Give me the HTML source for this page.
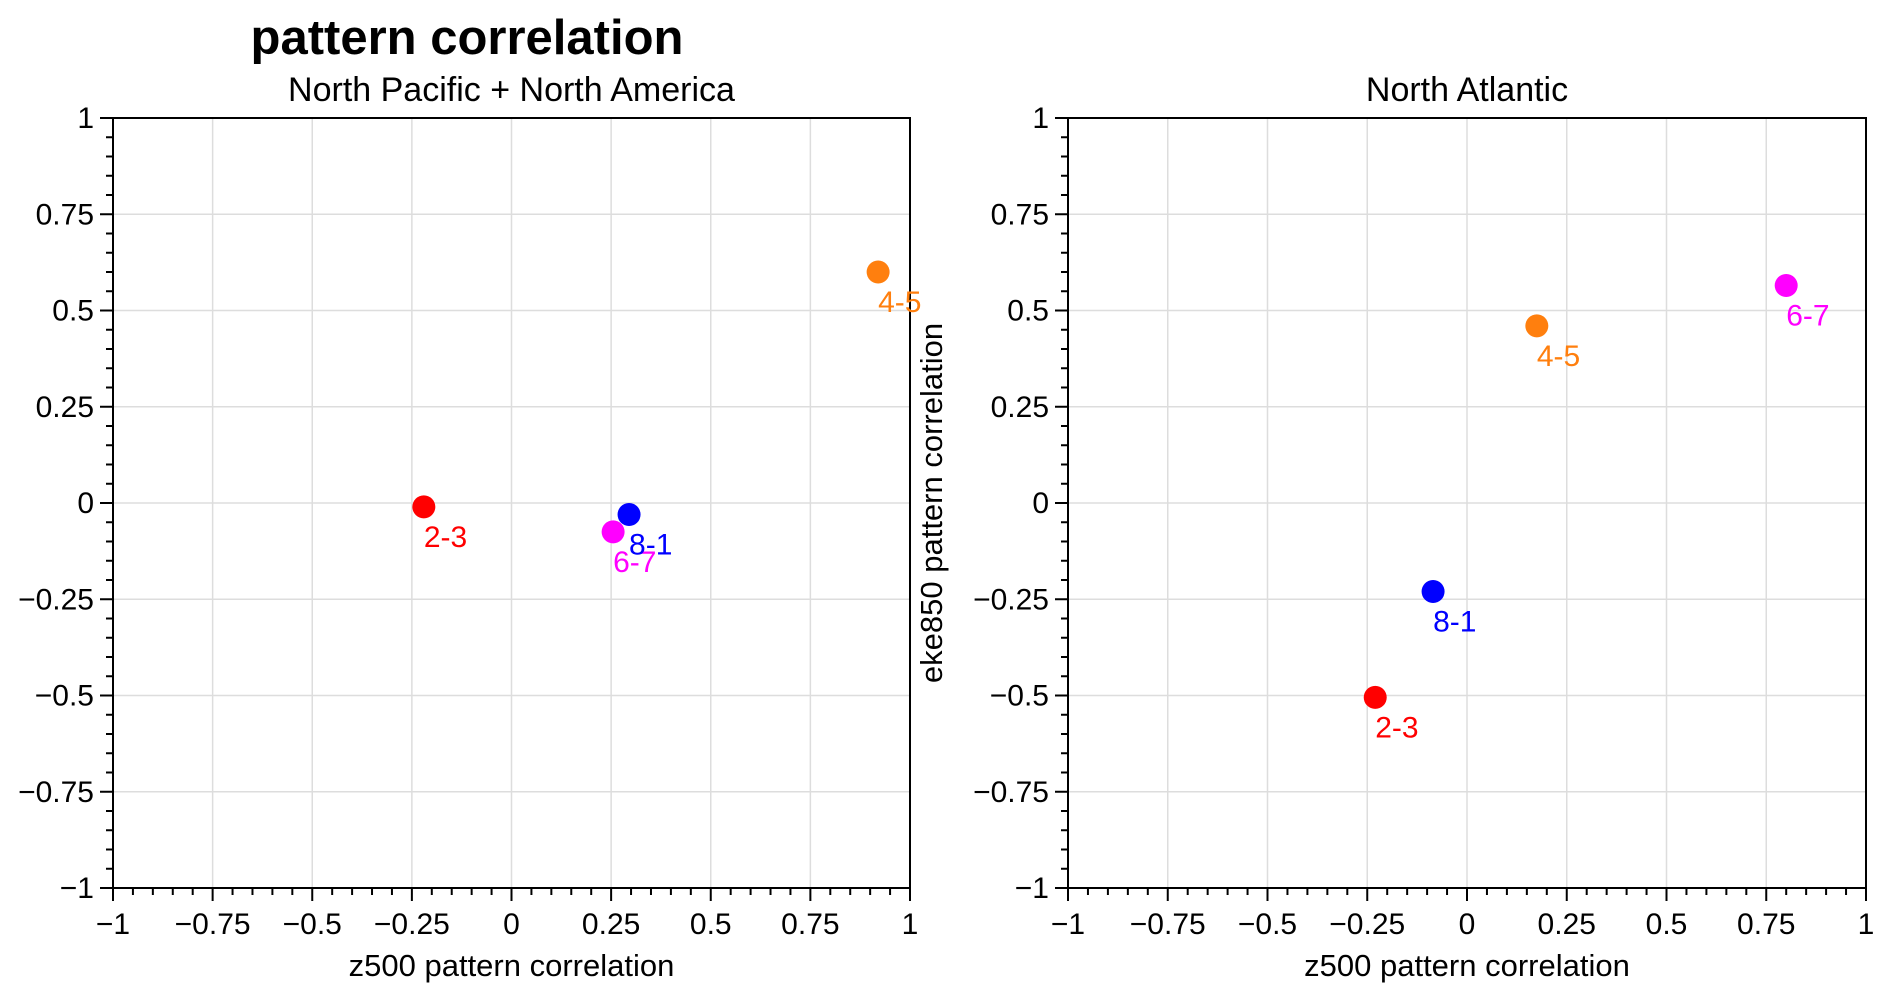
<!DOCTYPE html>
<html><head><meta charset="utf-8"><style>
html,body{margin:0;padding:0;background:#fff}
svg{display:block;font-family:"Liberation Sans",sans-serif}
</style></head><body>
<svg id="c" width="1892" height="1003" viewBox="0 0 1892 1003">
<text x="467" y="54" font-size="49" font-weight="bold" text-anchor="middle" fill="#000">pattern correlation</text>
</svg>
<script>
const panels = ['North Pacific + North America','North Atlantic'];
const labels = ['2-3','4-5','6-7','8-1'];
const colors = ['#ff0000','#ff7f0e','#ff00ff','#0000ff'];
const xNP = [-0.22, 0.92, 0.255, 0.295];
const yNP = [-0.01, 0.60, -0.075, -0.03];
const xNA = [-0.23, 0.175, 0.80, -0.085];
const yNA = [-0.505, 0.46, 0.565, -0.23];
const tickVals = [-1,-0.75,-0.5,-0.25,0,0.25,0.5,0.75,1];
const tickLabels = ['\u22121','\u22120.75','\u22120.5','\u22120.25','0','0.25','0.5','0.75','1'];

const svg = document.getElementById('c');
const NS = 'http://www.w3.org/2000/svg';
function mk(tag, attrs, parent){const e=document.createElementNS(NS,tag);for(const k in attrs)e.setAttribute(k,attrs[k]);(parent||svg).appendChild(e);return e;}
const boxes=[{x0:113,x1:910},{x0:1068,x1:1866}];
const Y0=118,Y1=888;
const dataX=[xNP,xNA], dataY=[yNP,yNA];
boxes.forEach((b,pi)=>{
  const g=mk('g',{});
  
  
  const sx=v=>b.x0+(v+1)/2*(b.x1-b.x0);
  const sy=v=>Y1-(v+1)/2*(Y1-Y0);
  const t=mk('text',{x:(b.x0+b.x1)/2,y:101,'font-size':34,'text-anchor':'middle'},g);
  t.textContent=panels[pi];
  
  
  tickVals.forEach((v,i)=>{
    if(i>0&&i<tickVals.length-1){
      const gl=mk('line',{x1:sx(v),x2:sx(v),y1:Y0,y2:Y1,stroke:'#ddd','stroke-width':1.5},g);
      
      
      const gl2=mk('line',{x1:b.x0,x2:b.x1,y1:sy(v),y2:sy(v),stroke:'#ddd','stroke-width':1.5},g);
      
      
    }
  });
  for(let k=0;k<=40;k++){
    const v=-1+k*0.05; const major=k%5===0; const L=major?13:7;
    mk('line',{x1:sx(v),x2:sx(v),y1:Y1,y2:Y1+L,stroke:'#000','stroke-width':2},g);
    mk('line',{x1:b.x0,x2:b.x0-L,y1:sy(v),y2:sy(v),stroke:'#000','stroke-width':2},g);
  }
  tickVals.forEach((v,i)=>{
    const tx=mk('text',{x:sx(v),y:934,'font-size':30,'text-anchor':'middle'},g);
    tx.textContent=tickLabels[i];
    
    
    const ty=mk('text',{x:b.x0-19,y:sy(v)+10,'font-size':30,'text-anchor':'end'},g);
    ty.textContent=tickLabels[i];
    
    
  });
  const fr=mk('rect',{x:b.x0,y:Y0,width:b.x1-b.x0,height:Y1-Y0,fill:'none',stroke:'#000','stroke-width':2},g);
  
  
  const xl=mk('text',{x:(b.x0+b.x1)/2,y:976,'font-size':31,'text-anchor':'middle'},g);
  xl.textContent='z500 pattern correlation';
  
  
  if(pi===1){
    const yl=mk('text',{x:0,y:0,'font-size':31,'text-anchor':'middle',transform:'translate(942,503) rotate(-90)'},g);
    yl.textContent='eke850 pattern correlation';
    
    
  }
  labels.forEach((lab,i)=>{
    const cx=sx(dataX[pi][i]), cy=sy(dataY[pi][i]);
    const c=mk('circle',{cx:cx,cy:cy,r:11.5,fill:colors[i]},g);
    
    
    const tl=mk('text',{x:cx,y:cy+40,'font-size':30,fill:colors[i]},g);
    tl.textContent=lab;
    
    
  });
});
</script>
</body></html>
